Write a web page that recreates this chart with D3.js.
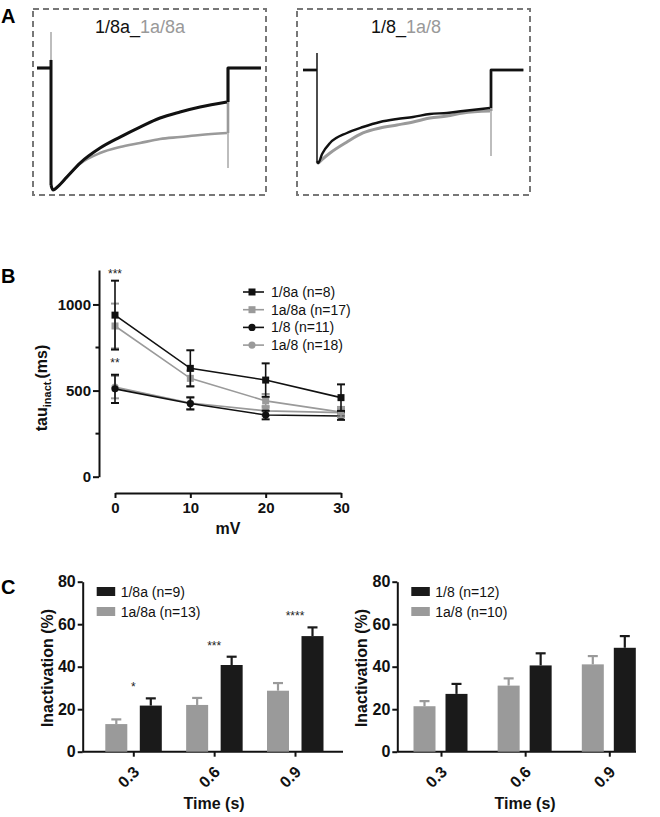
<!DOCTYPE html>
<html><head><meta charset="utf-8">
<script src="https://cdn.jsdelivr.net/npm/d3@7"></script>
<style>
body{margin:0;background:#fff}
svg{display:block}
text{font-family:Arial,"Liberation Sans",sans-serif}
</style>
</head><body>
<svg id="fig" width="660" height="817"></svg>
<script>
// ---------------- DATA ----------------
// Panel A: representative current traces (time ms, normalized current; -1 = peak)
const traceL_black = [[0,-0.96],[11,-1.0],[40,-0.97],[90,-0.893],[164,-0.779],[277,-0.656],[390,-0.566],[503,-0.484],[616,-0.41],[729,-0.361],[842,-0.32],[994,-0.279]];
const traceL_gray  = [[0,-0.96],[11,-1.0],[40,-0.97],[90,-0.89],[164,-0.785],[277,-0.697],[390,-0.648],[503,-0.615],[616,-0.582],[729,-0.566],[842,-0.549],[994,-0.533]];
const traceR_black = [[0,-0.98],[6,-1.0],[30,-0.9],[75,-0.785],[172,-0.677],[264,-0.613],[362,-0.559],[460,-0.527],[552,-0.505],[649,-0.473],[747,-0.462],[839,-0.441],[994,-0.409]];
const traceR_gray  = [[0,-0.98],[6,-1.0],[30,-0.96],[75,-0.892],[172,-0.774],[264,-0.677],[362,-0.624],[460,-0.591],[552,-0.559],[649,-0.516],[747,-0.495],[839,-0.462],[994,-0.441]];
// transients: [onset spike, offset tail]
const transL_black = [0.066, 0.0];
const transL_gray  = [0.295, -0.82];
const transR_black = [0.183, 0.0];
const transR_gray  = [0.183, -0.925];

// Panel B: tau inact (ms) vs voltage
const voltages = [0, 10, 20, 30];
const tau_18a   = [938, 629, 561, 459];
const tau_18a_e = [200, 105, 97, 77];
const tau_1a8a   = [875, 571, 440, 375];
const tau_1a8a_e = [130, 45, 40, 30];
const tau_18   = [510, 425, 358, 352];
const tau_18_e = [82, 35, 25, 22];
const tau_1a8   = [520, 428, 382, 372];
const tau_1a8_e = [65, 35, 28, 22];
const seriesB = [
  {name:"1/8a (n=8)", vals:tau_18a, err:tau_18a_e, color:"#111", shape:"square"},
  {name:"1a/8a (n=17)", vals:tau_1a8a, err:tau_1a8a_e, color:"#9a9a9a", shape:"square"},
  {name:"1/8 (n=11)", vals:tau_18, err:tau_18_e, color:"#111", shape:"circle"},
  {name:"1a/8 (n=18)", vals:tau_1a8, err:tau_1a8_e, color:"#9a9a9a", shape:"circle"}
];
const yTicksB = [0, 500, 1000];
const yMinorB = [250, 750];

// Panel C: inactivation (%) at times
const times = ["0.3", "0.6", "0.9"];
const inact_1a8a = [13.0, 22.0, 28.7];
const inact_1a8a_e = [2.2, 3.3, 3.6];
const inact_18a = [21.7, 40.8, 54.4];
const inact_18a_e = [3.4, 3.9, 4.1];
const starsC = ["*", "***", "****"];
const inact_1a8 = [21.4, 31.1, 41.1];
const inact_1a8_e = [2.4, 3.4, 3.9];
const inact_18 = [27.2, 40.6, 48.9];
const inact_18_e = [4.7, 5.7, 5.5];
const yTicksC = [0, 20, 40, 60, 80];

// ---------------- DRAW ----------------
const svg = d3.select("#fig");
const BLACK = "#111", GRAY = "#9a9a9a";

function panelLabel(t, x, y){
  svg.append("text").attr("x",x).attr("y",y).attr("font-size",20).attr("font-weight","bold").text(t);
}
panelLabel("A", 1, 23);
panelLabel("B", 1, 283);
panelLabel("C", 1, 594);

// ---- Panel A ----
function tracePanel(box, xr, yr, title1, title2, titleX, black, gray, tB, tG, wB, wG, wSpikeB){
  svg.append("rect").attr("x",box[0]).attr("y",box[1]).attr("width",box[2]-box[0]).attr("height",box[3]-box[1])
    .attr("fill","none").attr("stroke","#777").attr("stroke-width",2).attr("stroke-dasharray","6,4");
  const t = svg.append("text").attr("x",titleX).attr("y",33).attr("text-anchor","middle").attr("font-size",18);
  t.append("tspan").attr("fill","#111").text(title1);
  t.append("tspan").attr("fill","#999").text(title2);
  const x = d3.scaleLinear().domain([0,1000]).range(xr);
  const y = d3.scaleLinear().domain([0,-1]).range(yr);
  const lin = d3.line().x(d=>x(d[0])).y(d=>y(d[1]));
  const smooth = d3.line().x(d=>x(d[0])).y(d=>y(d[1])).curve(d3.curveMonotoneX);
  const preT = x.invert(xr[0]-14), postT = 1000 + (1000*0.186);
  function draw(data, tr, color, w, wSpike){
    const g = svg.append("g").attr("fill","none").attr("stroke",color).attr("stroke-linejoin","round");
    g.append("path").attr("d", lin([[preT,0],[0,0]])).attr("stroke-width",w);
    g.append("path").attr("d", lin([[0,tr[0]],[0,data[0][1]]])).attr("stroke-width",wSpike);
    g.append("path").attr("d", smooth(data)).attr("stroke-width",w);
    const last = data[data.length-1][1];
    if (tr[1] < last) {
      g.append("path").attr("d", lin([[1000,last],[1000,tr[1]]])).attr("stroke-width",wSpike);
    }
    g.append("path").attr("d", lin([[1000,last],[1000,0],[postT,0]])).attr("stroke-width",w);
  }
  draw(gray, tG, GRAY, wG, 1.3);
  draw(black, tB, BLACK, wB, wSpikeB);
}
tracePanel([33,9,266,195],[51,228],[68,190],"1/8a_","1a/8a",140, traceL_black, traceL_gray, transL_black, transL_gray, 3, 2.6, 3);
tracePanel([297,9,530,195],[317,491],[70,163],"1/8_","1a/8",406, traceR_black, traceR_gray, transR_black, transR_gray, 2.4, 3, 1.3);

// ---- Panel B ----
const xB = d3.scaleLinear().domain([0,30]).range([115,341]);
const yB = d3.scaleLinear().domain([0,1200]).range([476.7,270]);
const gyB = svg.append("g").attr("transform","translate(99,0)")
  .call(d3.axisLeft(yB).tickValues(yTicksB).tickFormat(d3.format("d")).tickSize(6).tickSizeOuter(0).tickPadding(2));
gyB.append("g").selectAll("line").data(yMinorB).join("line")
  .attr("x1",-3.5).attr("x2",0).attr("y1",d=>yB(d)).attr("y2",d=>yB(d)).attr("stroke","#111").attr("stroke-width",2);
const gxB = svg.append("g").attr("transform","translate(0,493)")
  .call(d3.axisBottom(xB).tickValues(voltages).tickSize(5).tickSizeOuter(0).tickPadding(4));
[gyB,gxB].forEach(g=>{
  g.select(".domain").attr("stroke","#111").attr("stroke-width",2);
  g.selectAll(".tick line").attr("stroke","#111").attr("stroke-width",2);
  g.selectAll("text").attr("font-size",15).attr("font-weight","bold").attr("fill","#111").style("font-family","Arial, 'Liberation Sans', sans-serif");
});
const ylab = svg.append("text").attr("transform","translate(47,388) rotate(-90)").attr("text-anchor","middle")
  .attr("font-size",16).attr("font-weight","bold").attr("fill","#111");
ylab.append("tspan").text("tau");
ylab.append("tspan").attr("font-size",11).attr("dy",4).text("inact.");
ylab.append("tspan").attr("dy",-4).text("(ms)");
svg.append("text").attr("x",228).attr("y",534).attr("text-anchor","middle").attr("font-size",16).attr("font-weight","bold").attr("fill","#111").text("mV");

const lineB = d3.line().x((d,i)=>xB(voltages[i])).y(d=>yB(d));
seriesB.slice().reverse().forEach(s=>{
  const g = svg.append("g");
  g.append("path").attr("d",lineB(s.vals)).attr("fill","none").attr("stroke",s.color).attr("stroke-width",1.6);
  s.vals.forEach((v,i)=>{
    const cx = xB(voltages[i]);
    const top = yB(v+s.err[i]), bot = yB(v-s.err[i]);
    g.append("line").attr("x1",cx).attr("x2",cx).attr("y1",top).attr("y2",bot).attr("stroke",s.color).attr("stroke-width",1.6);
    [top,bot].forEach(yy=>g.append("line").attr("x1",cx-4).attr("x2",cx+4).attr("y1",yy).attr("y2",yy).attr("stroke",s.color).attr("stroke-width",2));
    if (s.shape==="square") g.append("rect").attr("x",cx-3.5).attr("y",yB(v)-3.5).attr("width",7).attr("height",7).attr("fill",s.color);
    else g.append("circle").attr("cx",cx).attr("cy",yB(v)).attr("r",3.6).attr("fill",s.color);
  });
});
svg.append("text").attr("x",xB(0)).attr("y",278).attr("text-anchor","middle").attr("font-size",12).attr("fill","#222").text("***");
svg.append("text").attr("x",xB(0)).attr("y",367).attr("text-anchor","middle").attr("font-size",12).attr("fill","#222").text("**");
// legend B
seriesB.forEach((s,i)=>{
  const yy = 292 + i*17.7;
  svg.append("line").attr("x1",243).attr("x2",264).attr("y1",yy).attr("y2",yy).attr("stroke",s.color).attr("stroke-width",1.6);
  if (s.shape==="square") svg.append("rect").attr("x",248.5).attr("y",yy-3.5).attr("width",7).attr("height",7).attr("fill",s.color);
  else svg.append("circle").attr("cx",252).attr("cy",yy).attr("r",3.6).attr("fill",s.color);
  svg.append("text").attr("x",271).attr("y",yy+5).attr("font-size",14).attr("fill","#111").text(s.name);
});

// ---- Panel C ----
function barPanel(axisX, axisEnd, centers, grayVals, grayErr, blackVals, blackErr, legendNames, stars, ylabX, offs){
  const y = d3.scaleLinear().domain([0,80]).range([751.7,581.7]);
  const x = d3.scalePoint().domain(times).range(centers);
  const gy = svg.append("g").attr("transform",`translate(${axisX},0)`)
    .call(d3.axisLeft(y).tickValues(yTicksC).tickSize(5).tickSizeOuter(0).tickPadding(2));
  const gx = svg.append("g").attr("transform","translate(0,751.7)")
    .call(d3.axisBottom(x).tickSize(5).tickSizeOuter(0).tickFormat(""));
  gx.select(".domain").remove();
  svg.append("line").attr("x1",axisX).attr("x2",axisEnd).attr("y1",751.7).attr("y2",751.7).attr("stroke","#111").attr("stroke-width",2);
  [gy,gx].forEach(g=>{
    g.select(".domain").attr("stroke","#111").attr("stroke-width",2);
    g.selectAll(".tick line").attr("stroke","#111").attr("stroke-width",2);
    g.selectAll("text").attr("font-size",16).attr("font-weight","bold").attr("fill","#111").style("font-family","Arial, 'Liberation Sans', sans-serif");
  });
  // rotated x labels
  svg.append("g").selectAll("text").data(times).join("text")
    .attr("transform",d=>`translate(${x(d)+7},773) rotate(-45)`).attr("text-anchor","end")
    .attr("font-size",16).attr("font-weight","bold").attr("fill","#111").text(d=>d);
  const bw = 22;
  function bars(vals, errs, color, off){
    const g = svg.append("g");
    g.selectAll("rect").data(vals).join("rect")
      .attr("x",(d,i)=>x(times[i])+off-bw/2).attr("y",d=>y(d)).attr("width",bw).attr("height",d=>y(0)-y(d)).attr("fill",color);
    vals.forEach((v,i)=>{
      const cx = x(times[i])+off;
      g.append("line").attr("x1",cx).attr("x2",cx).attr("y1",y(v)).attr("y2",y(v+errs[i])).attr("stroke",color).attr("stroke-width",2.2);
      g.append("line").attr("x1",cx-5).attr("x2",cx+5).attr("y1",y(v+errs[i])).attr("y2",y(v+errs[i])).attr("stroke",color).attr("stroke-width",2.2);
    });
  }
  bars(grayVals, grayErr, GRAY, offs[0]);
  bars(blackVals, blackErr, "#1a1a1a", offs[1]);
  if (stars) {
    stars.forEach((s,i)=>{
      const top = Math.max(blackVals[i]+blackErr[i], grayVals[i]+grayErr[i]);
      svg.append("text").attr("x",x(times[i])).attr("y",y(top)-7).attr("text-anchor","middle").attr("font-size",12).attr("fill","#222").text(s);
    });
  }
  // legend
  const lx = axisX + 14;
  [["#1a1a1a",legendNames[0],587],[GRAY,legendNames[1],607]].forEach(([c,n,yy])=>{
    svg.append("rect").attr("x",lx).attr("y",yy).attr("width",18.5).attr("height",9).attr("fill",c);
    svg.append("text").attr("x",lx+24).attr("y",yy+9.5).attr("font-size",14).attr("fill","#111").text(n);
  });
  svg.append("text").attr("transform",`translate(${ylabX},668) rotate(-90)`).attr("text-anchor","middle")
    .attr("font-size",16).attr("font-weight","bold").attr("fill","#111").text("Inactivation (%)");
  svg.append("text").attr("x",x("0.6")).attr("y",809).attr("text-anchor","middle")
    .attr("font-size",16).attr("font-weight","bold").attr("fill","#111").text("Time (s)");
}
barPanel(82.7, 343, [133.3,295], inact_1a8a, inact_1a8a_e, inact_18a, inact_18a_e, ["1/8a (n=9)","1a/8a (n=13)"], starsC, 53, [-17,17.5]);
barPanel(397.3, 636, [441,609.3], inact_1a8, inact_1a8_e, inact_18, inact_18_e, ["1/8 (n=12)","1a/8 (n=10)"], null, 367, [-16.5,15.5]);
</script>
</body></html>
